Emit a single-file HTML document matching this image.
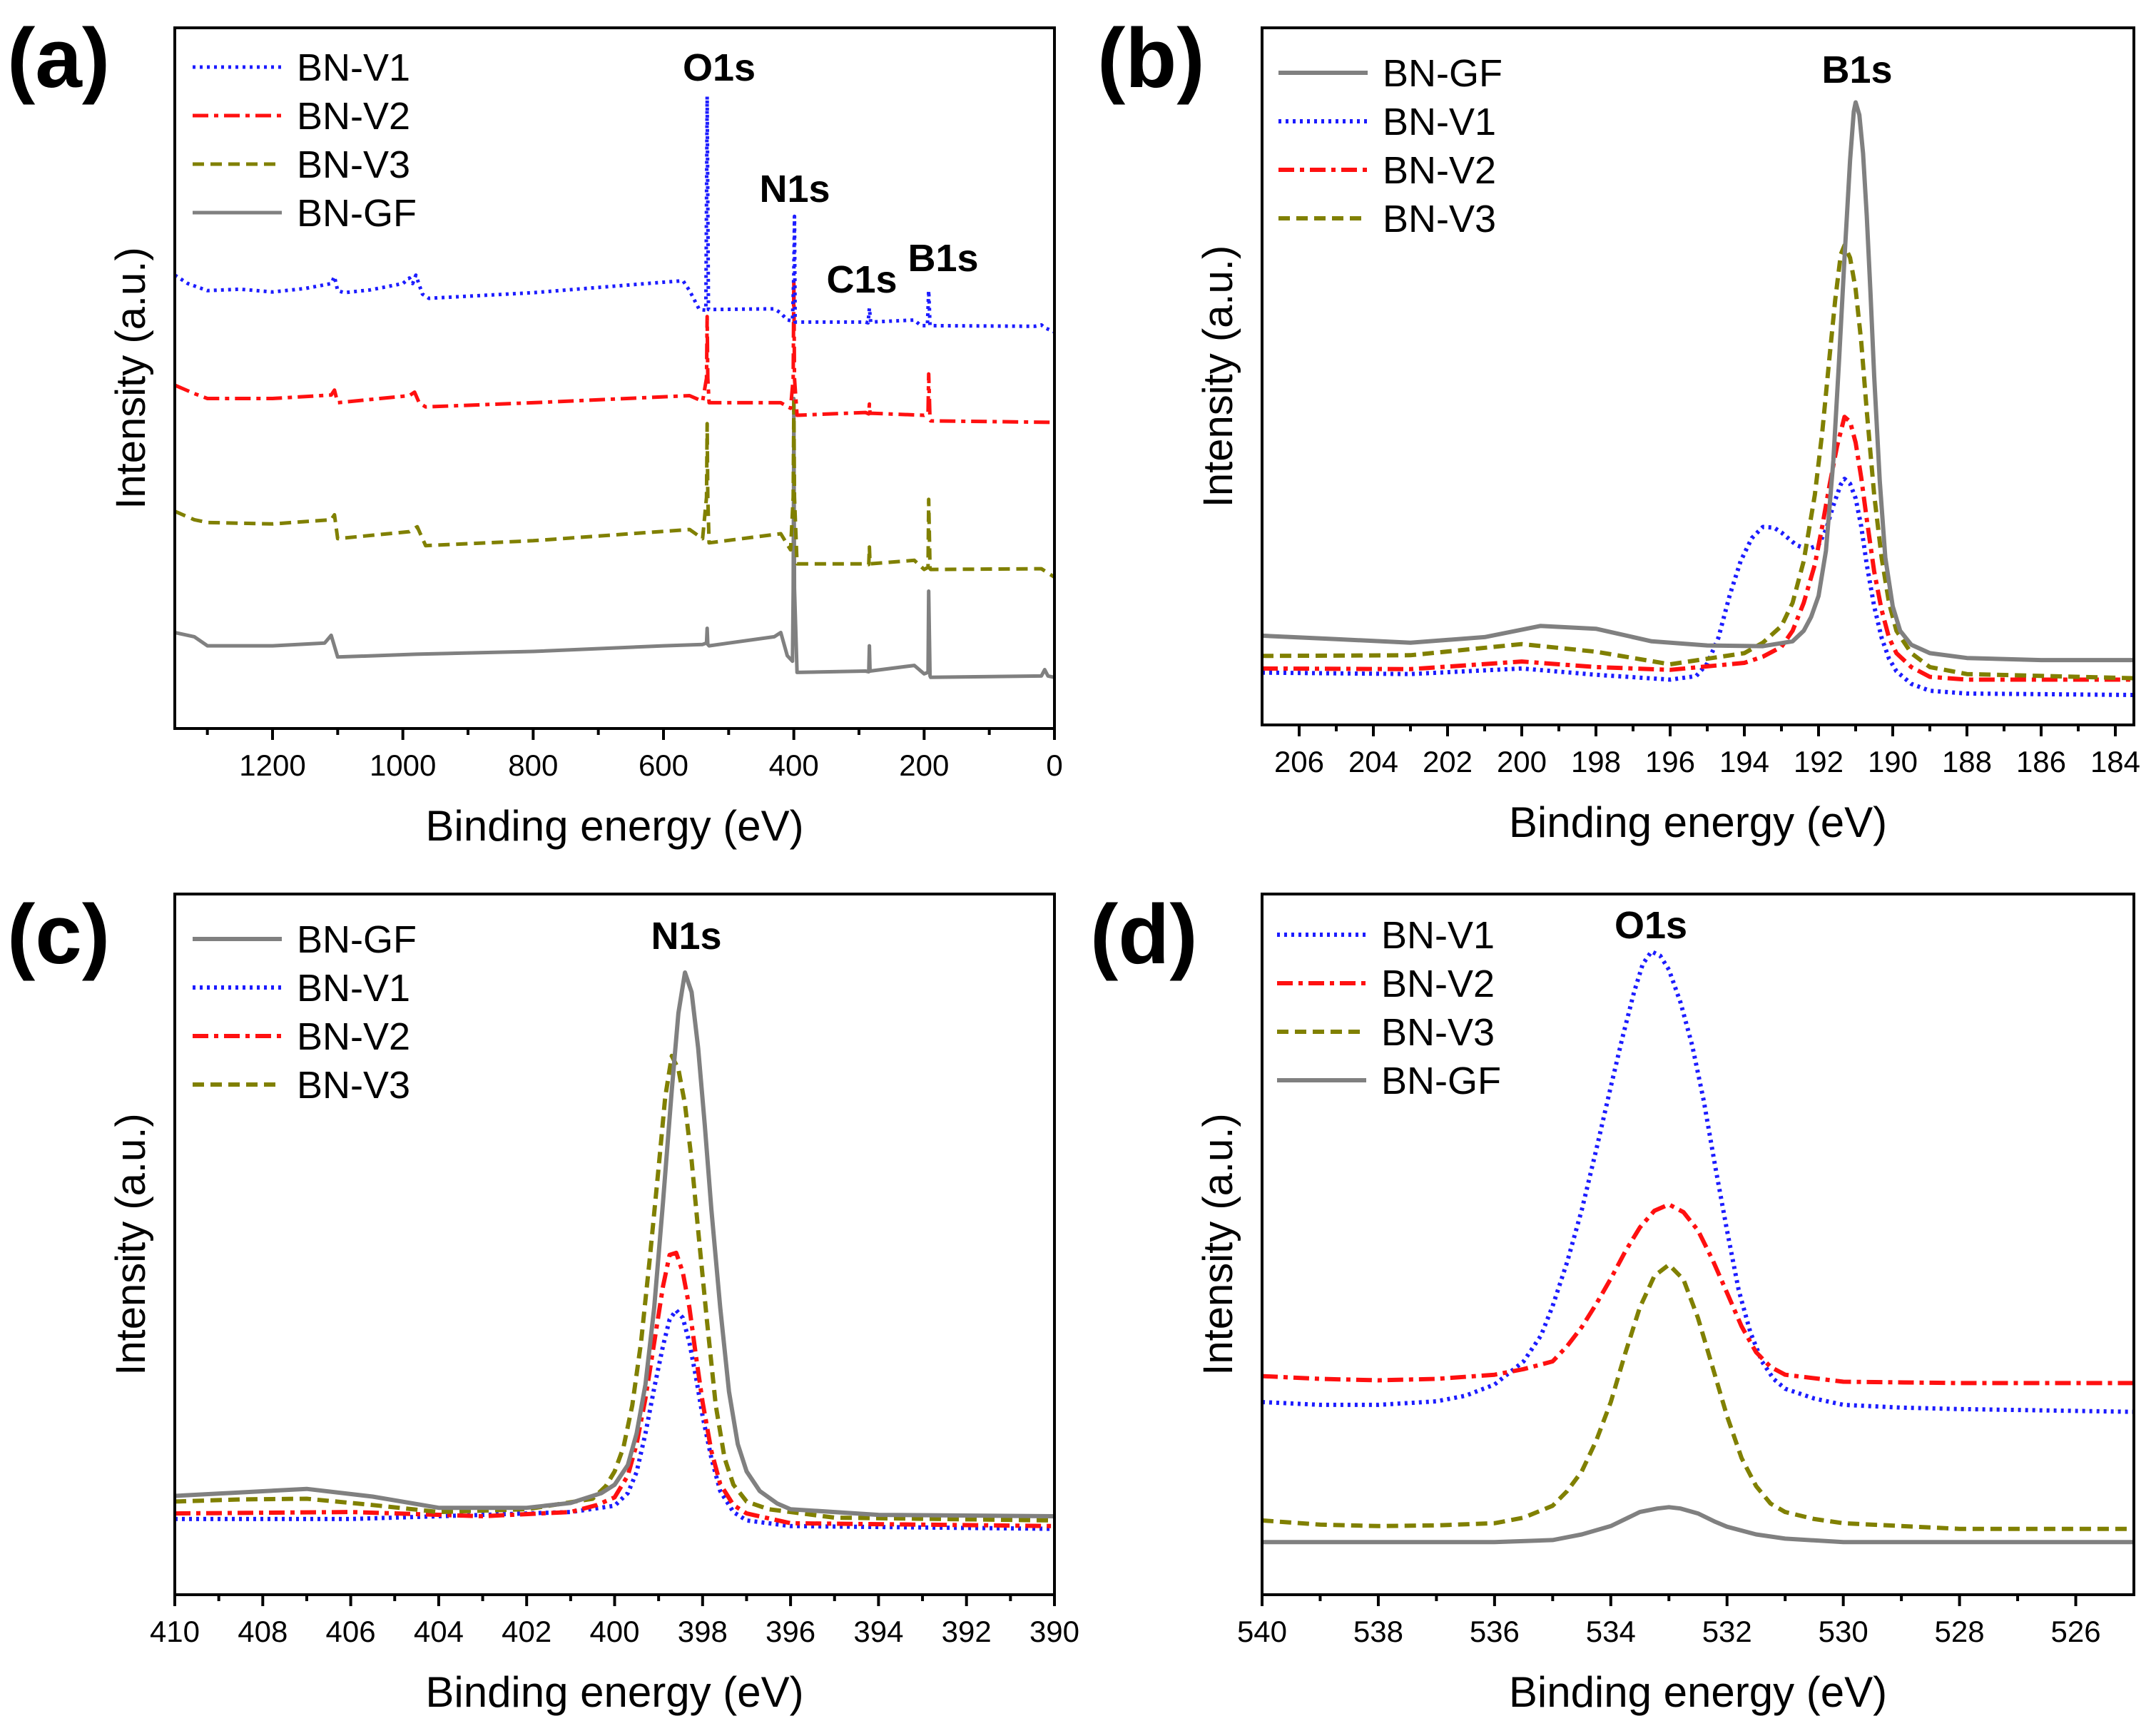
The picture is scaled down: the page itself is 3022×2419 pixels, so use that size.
<!DOCTYPE html>
<html><head><meta charset="utf-8">
<style>
html,body{margin:0;padding:0;background:#fff;}
svg{display:block;font-family:"Liberation Sans",Arial,sans-serif;}
</style></head>
<body>
<svg id="fig" width="3022" height="2419" viewBox="0 0 3022 2419" xmlns="http://www.w3.org/2000/svg">
<rect width="3022" height="2419" fill="#fff"/>
</svg>
<script>
// ---------- Panel (a) survey data ----------
const aTicks = [1200,1000,800,600,400,200,0];
const aV1 = [[1350,64.7],[1330,63.5],[1300,62.5],[1250,62.7],[1200,62.3],[1150,62.8],[1110,63.5],[1105,64.5],[1100,62.5],[1090,62.2],[1050,62.6],[1000,63.5],[990,64.3],[985,63.5],[980,64.7],[970,62],[960,61.4],[800,62.2],[600,63.7],[570,63.9],[560,62.5],[545,59.8],[535,59.7],[534,75],[533,90.2],[532,75],[531,59.8],[430,59.9],[420,59.3],[410,58.3],[402,58.2],[400,65],[399,73.1],[398,58],[290,58],[286,57.9],[284,60],[282,58],[215,58.3],[205,57.5],[195,57.5],[193,62.5],[191,57.5],[30,57.4],[20,57.6],[15,57.2],[0,56.6]];
const aV2 = [[1350,49],[1320,47.8],[1300,47.1],[1200,47.1],[1110,47.6],[1105,48.3],[1100,46.5],[990,47.5],[982,48],[975,46.5],[965,45.9],[800,46.5],[560,47.5],[540,46.7],[534,50],[533,58.8],[532,50],[530,46.5],[420,46.5],[405,45.7],[401,50],[400,64.1],[399,50],[395,44.7],[290,45.1],[285,44.9],[284,46.3],[283,45],[200,44.7],[194,45],[193,50.6],[191,44],[190,43.9],[0,43.7]];
const aV3 = [[1350,31],[1320,29.8],[1300,29.4],[1200,29.2],[1110,29.8],[1105,30.5],[1100,27.1],[990,28.1],[978,28.8],[965,26.1],[800,26.8],[560,28.4],[540,27.1],[534,33],[533,43.5],[532,33],[530,26.5],[420,27.8],[405,25.5],[401,33],[400,47.1],[399,33],[395,23.5],[290,23.5],[285,23.4],[284,25.9],[283,23.5],[215,24],[200,22.7],[194,23],[193,32.7],[191,22.8],[190,22.7],[20,22.8],[0,21.6]];
const aGF = [[1350,13.7],[1320,13.1],[1300,11.8],[1200,11.8],[1120,12.2],[1110,13.3],[1100,10.2],[980,10.6],[800,11],[600,11.8],[540,12],[534,12.2],[533,14.3],[532,12],[530,11.8],[430,13.1],[420,13.7],[410,10.4],[402,9.6],[401,20],[400,47.1],[399,20],[395,8],[290,8.2],[285,8.1],[284,11.8],[283,8.2],[215,9],[200,7.8],[194,8],[193,19.6],[191,7.5],[190,7.3],[20,7.5],[15,8.4],[10,7.5],[0,7.3]];
// ---------- Panel (b) B1s data ----------
const bTicks = [206,204,202,200,198,196,194,192,190,188,186,184];
const bGF = [[207,12.8],[205,12.3],[203,11.8],[201,12.6],[199.5,14.2],[198,13.8],[196.5,12],[195,11.4],[193.5,11.3],[192.7,12],[192.4,13.5],[192.2,15.5],[192,18.5],[191.8,25],[191.6,38],[191.45,52],[191.3,67],[191.15,81],[191.05,88],[191.0,89.3],[190.9,87.5],[190.8,82],[190.7,73],[190.6,62],[190.5,50],[190.35,35],[190.2,24],[190,17],[189.8,13.5],[189.5,11.5],[189,10.3],[188,9.6],[186,9.3],[183.5,9.3]];
const bV1 = [[207,7.5],[203,7.3],[200,8.1],[198,7.2],[196,6.5],[195.3,7],[195,8.8],[194.7,12.5],[194.4,18.5],[194.1,23.5],[193.8,26.8],[193.5,28.4],[193.2,28.3],[193,27.6],[192.6,25.8],[192.3,25.2],[192,25.8],[191.8,28],[191.6,31.5],[191.4,34.5],[191.3,35.3],[191.15,34.6],[191,32.5],[190.85,28.5],[190.7,23],[190.5,17],[190.3,12.5],[190.1,9.5],[189.9,7.7],[189.5,5.9],[189,4.9],[188,4.5],[183.5,4.3]];
const bV2 = [[207,8.1],[203,8],[200,9.1],[198,8.3],[196,7.9],[194,8.9],[193.5,9.8],[193,11.2],[192.7,13.5],[192.4,17.5],[192.1,23],[191.9,28.5],[191.7,34.5],[191.5,40],[191.3,44.2],[191.15,43.5],[191,40.5],[190.85,35.5],[190.7,29.5],[190.5,22],[190.3,16.5],[190.1,12.5],[189.9,10.3],[189.5,8.3],[189,6.9],[188,6.5],[183.5,6.5]];
const bV3 = [[207,9.9],[203,10],[200,11.6],[198,10.5],[196,8.7],[194,10.3],[193.5,11.8],[193,14.2],[192.7,17.5],[192.4,23.5],[192.1,33],[191.9,42],[191.7,53],[191.55,61],[191.4,67.5],[191.3,68.8],[191.15,67],[191,62.5],[190.85,55],[190.7,45],[190.5,33],[190.3,24],[190.1,17.5],[189.9,13.5],[189.5,10.3],[189,8.3],[188,7.3],[183.5,6.7]];
// ---------- Panel (c) N1s data ----------
const cTicks = [410,408,406,404,402,400,398,396,394,392,390];
const cGF = [[410,14.1],[408.5,14.6],[407,15.1],[405.5,14],[404,12.4],[402,12.4],[401,13.1],[400.3,14.5],[400,15.7],[399.7,18.5],[399.5,23],[399.3,30],[399.1,41],[398.9,56],[398.7,72],[398.55,83],[398.4,88.8],[398.25,86],[398.1,78],[397.95,67],[397.8,55],[397.6,41],[397.4,29],[397.2,21.5],[397,17.6],[396.7,14.8],[396.3,13],[396,12.2],[394,11.4],[390,11.2]];
const cV3 = [[410,13.3],[408.5,13.6],[407,13.7],[405.5,12.8],[404,11.8],[402,12.2],[400.5,13.7],[400.2,15.5],[400,17.6],[399.8,21],[399.6,27],[399.4,36],[399.2,48],[399,61],[398.85,71],[398.7,76.9],[398.55,75],[398.4,70],[398.25,62],[398.1,52],[397.9,39],[397.7,27],[397.5,19.5],[397.3,15.7],[397,13.3],[396.5,12.2],[395,11],[390,10.6]];
const cV2 = [[410,11.6],[406,11.8],[403,11.2],[401,11.8],[400.4,12.8],[400,13.9],[399.7,17],[399.5,21.5],[399.3,28],[399.1,36],[398.9,44],[398.75,48.5],[398.6,48.8],[398.45,46],[398.3,41],[398.15,34],[398,27.5],[397.8,20.5],[397.6,15.8],[397.3,12.8],[397,11.6],[396,10.2],[390,9.8]];
const cV1 = [[410,10.8],[406,10.8],[403,11.4],[401,11.8],[400,12.7],[399.7,14.5],[399.5,17.5],[399.3,23],[399.1,29.5],[398.9,35.5],[398.75,39.3],[398.6,40.6],[398.45,39.5],[398.3,36],[398.15,31],[398,25.5],[397.8,19.5],[397.6,14.8],[397.3,11.8],[397,10.6],[396,9.8],[390,9.4]];
// ---------- Panel (d) O1s data ----------
const dTicks = [540,538,536,534,532,530,528,526];
const dV1 = [[540,27.5],[539,27.1],[538,27.1],[537,27.6],[536.5,28.4],[536,30],[535.5,33.3],[535.2,37],[535,41.2],[534.75,47.5],[534.5,54.9],[534.25,63.5],[534,72.5],[533.8,79.5],[533.6,86],[533.45,90],[533.3,91.8],[533.15,91.2],[533,89.2],[532.8,84.5],[532.6,78.4],[532.4,70.5],[532.2,61],[532,52],[531.8,43.5],[531.6,37.5],[531.4,33.3],[531.2,30.8],[531,29.4],[530.5,28],[530,27.1],[529,26.7],[528,26.5],[525,26.1]];
const dV2 = [[540,31.2],[539,30.8],[538,30.6],[537,30.8],[536,31.4],[535.5,32.2],[535,33.3],[534.75,35.5],[534.5,38.2],[534.25,41.5],[534,45.1],[533.75,49],[533.5,52.4],[533.25,54.8],[533,55.7],[532.75,54.6],[532.5,52],[532.25,47.8],[532,43.1],[531.75,38.3],[531.5,34.6],[531.25,32.5],[531,31.4],[530,30.4],[528,30.2],[525,30.2]];
const dV3 = [[540,10.6],[539,10],[538,9.8],[537,9.9],[536,10.2],[535.5,11],[535,12.7],[534.75,14.8],[534.5,17.6],[534.25,22],[534,27.5],[533.75,34.5],[533.5,41],[533.25,45.5],[533,47.1],[532.75,45],[532.5,39.5],[532.25,32.5],[532,25.5],[531.75,19.5],[531.5,15.5],[531.25,13],[531,11.8],[530.5,10.8],[530,10.2],[528,9.4],[525,9.4]];
const dGF = [[540,7.5],[536,7.5],[535,7.8],[534.5,8.6],[534,9.8],[533.7,11],[533.5,11.8],[533.2,12.3],[533,12.5],[532.8,12.3],[532.5,11.6],[532.2,10.4],[532,9.7],[531.5,8.6],[531,8],[530,7.5],[525,7.5]];

const NS = "http://www.w3.org/2000/svg";
const fig = document.getElementById('fig');
const COL = {V1:'#1c1cff', V2:'#ff1010', V3:'#808000', GF:'#808080'};
const DASH = {V1:'4 6', V2:'22 8 6 8', V3:'16 9', GF:''};

function mk(tag, attrs, parent){
  const e = document.createElementNS(NS, tag);
  for (const k in attrs) e.setAttribute(k, attrs[k]);
  (parent||fig).appendChild(e);
  return e;
}

function panel(p){
  const g = mk('g', {});
  
  
  const X = v => p.x0 + (p.xmax - v) / (p.xmax - p.xmin) * (p.x1 - p.x0);
  const Y = v => p.y1 - v / 100 * (p.y1 - p.y0);
  p.series.forEach(s => {
    const d = s.data.map((pt,i) => (i ? 'L' : 'M') + X(pt[0]).toFixed(1) + ' ' + Y(pt[1]).toFixed(1)).join(' ');
    const path = mk('path', {d:d, fill:'none', stroke:COL[s.key], 'stroke-width':p.lw, 'stroke-dasharray':DASH[s.key], 'stroke-linejoin':'round'}, g);
    
    
  });
  const fr = mk('rect', {x:p.x0, y:p.y0, width:p.x1-p.x0, height:p.y1-p.y0, fill:'none', stroke:'#000', 'stroke-width':4}, g);
  
  
  const step = p.ticks[0] - p.ticks[1];
  p.ticks.forEach(t => {
    const tx = X(t);
    mk('line', {x1:tx, x2:tx, y1:p.y1, y2:p.y1+16, stroke:'#000', 'stroke-width':4}, g);
    const lab = mk('text', {x:tx, y:p.y1+66, 'text-anchor':'middle', 'font-size':42, fill:'#000'}, g);
    lab.textContent = t;
    
    
    const m = t - step/2;
    if (m > p.xmin && m < p.xmax) mk('line', {x1:X(m), x2:X(m), y1:p.y1, y2:p.y1+9, stroke:'#000', 'stroke-width':4}, g);
    const m2 = t + step/2;
    if (t === p.ticks[0] && m2 > p.xmin && m2 < p.xmax) mk('line', {x1:X(m2), x2:X(m2), y1:p.y1, y2:p.y1+9, stroke:'#000', 'stroke-width':4}, g);
  });
  const xt = mk('text', {x:(p.x0+p.x1)/2, y:p.y1+157, 'text-anchor':'middle', 'font-size':60, fill:'#000'}, g);
  xt.textContent = 'Binding energy (eV)';
  
  
  const cy = (p.y0+p.y1)/2;
  const yx = p.x0-42;
  const yt = mk('text', {x:yx, y:cy, 'text-anchor':'middle', 'font-size':58, fill:'#000', transform:'rotate(-90 '+yx+' '+cy+')'}, g);
  yt.textContent = 'Intensity (a.u.)';
  
  
  const pl = mk('text', {x:p.lx, y:p.ly, 'font-size':118, 'font-weight':'bold', fill:'#000'}, g);
  pl.textContent = '(' + p.id + ')';
  
  
  p.legend.forEach((k,i) => {
    const ly = p.legY + i*68;
    const le = mk('g', {}, g);
    
    
    mk('line', {x1:p.legX, x2:p.legX+125, y1:ly, y2:ly, stroke:COL[k], 'stroke-width':p.lw, 'stroke-dasharray':DASH[k]}, le);
    const t = mk('text', {x:p.legX+146, y:ly+19, 'font-size':54, fill:'#000'}, le);
    t.textContent = 'BN-' + k;
  });
  p.peaks.forEach(pk => {
    const t = mk('text', {x:pk[1], y:pk[2], 'text-anchor':'middle', 'font-size':54, 'font-weight':'bold', fill:'#000'}, g);
    t.textContent = pk[0];
    
    
  });
}

panel({id:'a', x0:245, x1:1478, y0:39, y1:1021, xmin:0, xmax:1350, ticks:aTicks, lx:10, ly:122, lw:5,
  series:[{key:'GF',data:aGF},{key:'V3',data:aV3},{key:'V2',data:aV2},{key:'V1',data:aV1}],
  legend:['V1','V2','V3','GF'], legX:270, legY:94,
  peaks:[['O1s',1008,113],['N1s',1114,283],['C1s',1208,410],['B1s',1322,380]]});
panel({id:'b', x0:1769, x1:2991, y0:39, y1:1016, xmin:183.5, xmax:207, ticks:bTicks, lx:1538, ly:122, lw:6,
  series:[{key:'V1',data:bV1},{key:'V2',data:bV2},{key:'V3',data:bV3},{key:'GF',data:bGF}],
  legend:['GF','V1','V2','V3'], legX:1792, legY:102,
  peaks:[['B1s',2603,116]]});
panel({id:'c', x0:245, x1:1478, y0:1253, y1:2235, xmin:390, xmax:410, ticks:cTicks, lx:10, ly:1350, lw:6,
  series:[{key:'V1',data:cV1},{key:'V2',data:cV2},{key:'V3',data:cV3},{key:'GF',data:cGF}],
  legend:['GF','V1','V2','V3'], legX:270, legY:1316,
  peaks:[['N1s',962,1330]]});
panel({id:'d', x0:1769, x1:2991, y0:1253, y1:2235, xmin:525, xmax:540, ticks:dTicks, lx:1528, ly:1350, lw:6,
  series:[{key:'GF',data:dGF},{key:'V3',data:dV3},{key:'V1',data:dV1},{key:'V2',data:dV2}],
  legend:['V1','V2','V3','GF'], legX:1790, legY:1310,
  peaks:[['O1s',2314,1315]]});
</script>
</body></html>
